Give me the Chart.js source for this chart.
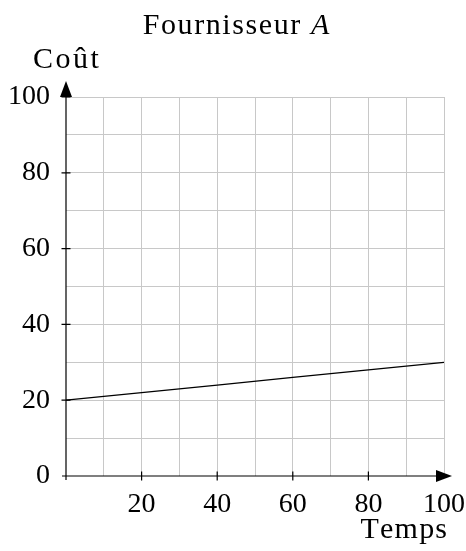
<!DOCTYPE html>
<html>
<head>
<meta charset="utf-8">
<script src="https://cdn.jsdelivr.net/npm/chart.js@4.4.1/dist/chart.umd.min.js"></script>
<style>
  body { margin: 0; background: #fff; }
  #wrap { width: 466px; height: 551px; }
</style>
</head>
<body>
<div id="wrap"><canvas id="chart" width="466" height="551"></canvas></div>
<script>
// values
const temps = [0, 20, 40, 60, 80, 100];
const cout = [20, 22, 24, 26, 28, 30];
const xTickLabels = [20, 40, 60, 80, 100];
const yTickLabels = [0, 20, 40, 60, 80, 100];

const FONT = 'Liberation Serif';
const GRID = '#c8c8c8';

// draws text with a given letter spacing so it fills the target width
function spacedText(ctx, text, x, y, spacing) {
  let cx = x;
  for (const ch of text) {
    ctx.fillText(ch, cx, y);
    cx += ctx.measureText(ch).width + spacing;
  }
  return cx - spacing;
}
function spacedWidth(ctx, text, spacing) {
  let w = 0;
  for (const ch of text) w += ctx.measureText(ch).width + spacing;
  return w - spacing;
}

const axesPlugin = {
  id: 'axes',
  afterDraw(chart) {
    const ctx = chart.ctx;
    const xs = chart.scales.x;
    const ys = chart.scales.y;
    const x0 = xs.getPixelForValue(0);
    const y0 = ys.getPixelForValue(0);
    const xEnd = xs.getPixelForValue(100);
    const yEnd = ys.getPixelForValue(100);

    ctx.save();
    ctx.strokeStyle = '#000';
    ctx.fillStyle = '#000';
    ctx.lineWidth = 1.2;

    // axis lines
    ctx.beginPath();
    ctx.moveTo(x0 - 4, y0);
    ctx.lineTo(xEnd + 2, y0);
    ctx.moveTo(x0, y0 + 4);
    ctx.lineTo(x0, yEnd - 2);
    ctx.stroke();

    // arrow heads
    ctx.beginPath();
    ctx.moveTo(xEnd + 8, y0);
    ctx.lineTo(xEnd - 8, y0 - 6);
    ctx.lineTo(xEnd - 8, y0 + 6);
    ctx.closePath();
    ctx.fill();
    ctx.beginPath();
    ctx.moveTo(x0, yEnd - 16);
    ctx.lineTo(x0 - 6, yEnd);
    ctx.lineTo(x0 + 6, yEnd);
    ctx.closePath();
    ctx.fill();

    // tick marks
    ctx.beginPath();
    xTickLabels.filter(v => v < 100).forEach(v => {
      const px = xs.getPixelForValue(v);
      ctx.moveTo(px, y0 - 4.5);
      ctx.lineTo(px, y0 + 4.5);
    });
    yTickLabels.filter(v => v > 0).forEach(v => {
      const py = ys.getPixelForValue(v);
      ctx.moveTo(x0 - 4.5, py);
      ctx.lineTo(x0 + 4.5, py);
    });
    ctx.stroke();

    // texts
    ctx.textBaseline = 'alphabetic';
    ctx.textAlign = 'left';
    const normal = '30px "' + FONT + '"';
    const italic = 'italic 30px "' + FONT + '"';

    ctx.font = normal;
    const t1 = 'Fournisseur ';
    const w1 = spacedWidth(ctx, t1, 1.6) + 1.6;
    ctx.font = italic;
    const wA = ctx.measureText('A').width;
    const start = 236 - (w1 + wA) / 2;
    ctx.font = normal;
    spacedText(ctx, t1, start, 34, 1.6);
    ctx.font = italic;
    ctx.fillText('A', start + w1, 34);

    ctx.font = normal;
    spacedText(ctx, 'Coût', 33, 68, 2.5);
    const wT = spacedWidth(ctx, 'Temps', 1.2);
    spacedText(ctx, 'Temps', 447 - wT, 538, 1.2);
    ctx.restore();
  }
};

new Chart(document.getElementById('chart'), {
  type: 'scatter',
  data: {
    datasets: [{
      data: temps.map((t, i) => ({ x: t, y: cout[i] })),
      showLine: true,
      borderColor: '#000',
      borderWidth: 1.2,
      pointRadius: 0,
      fill: false
    }]
  },
  options: {
    responsive: false,
    animation: false,
    layout: { padding: { left: 0, right: 22, top: 97, bottom: 0 } },
    plugins: { legend: { display: false }, tooltip: { enabled: false } },
    scales: {
      x: {
        type: 'linear',
        min: 0,
        max: 100,
        afterFit: s => { s.height = 75; s.paddingLeft = 0; s.paddingRight = 0; },
        border: { display: false },
        grid: {
          drawTicks: false,
          lineWidth: 1,
          color: c => (c.tick && c.tick.value === 0) ? 'rgba(0,0,0,0)' : GRID
        },
        ticks: {
          stepSize: 10,
          autoSkip: false,
          maxRotation: 0,
          padding: 12,
          color: '#000',
          font: { family: FONT, size: 28 },
          callback: v => xTickLabels.includes(v) ? String(v) : ''
        }
      },
      y: {
        type: 'linear',
        min: 0,
        max: 100,
        afterFit: s => { s.width = 66; s.paddingTop = 0; s.paddingBottom = 0; },
        border: { display: false },
        grid: {
          drawTicks: false,
          lineWidth: 1,
          color: c => (c.tick && c.tick.value === 0) ? 'rgba(0,0,0,0)' : GRID
        },
        ticks: {
          stepSize: 10,
          autoSkip: false,
          padding: 16,
          color: '#000',
          font: { family: FONT, size: 28 },
          callback: v => yTickLabels.includes(v) ? String(v) : ''
        }
      }
    }
  },
  plugins: [axesPlugin]
});
</script>
</body>
</html>
